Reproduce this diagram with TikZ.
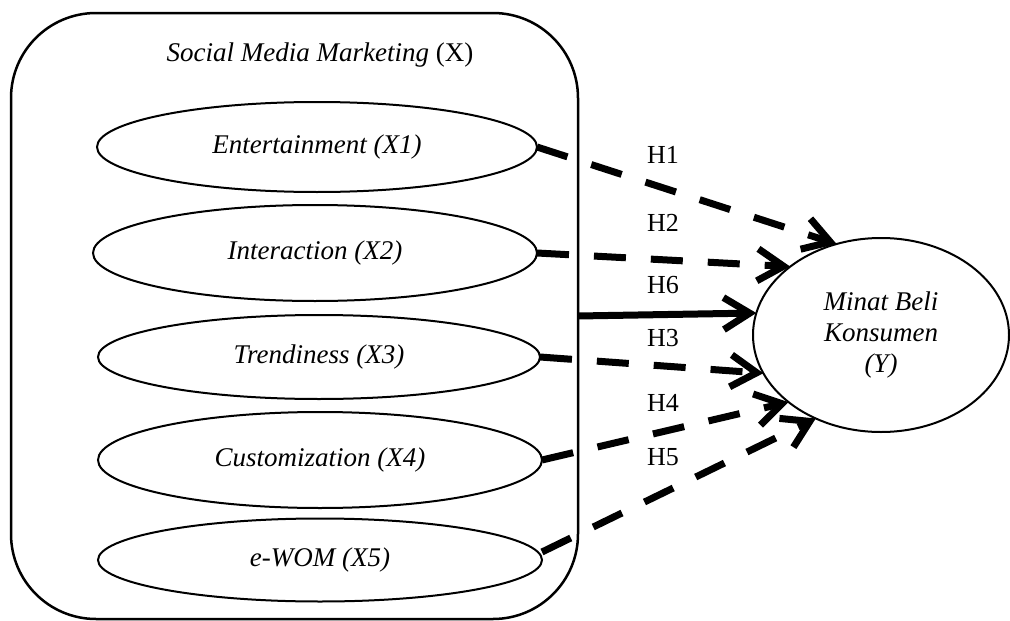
\documentclass[tikz,border=0pt]{standalone}
\usepackage{fontspec}
\setmainfont{Liberation Serif}
\usetikzlibrary{arrows.meta,shapes.geometric}
\begin{document}
\begin{tikzpicture}[x=1pt,y=-1pt,
  every node/.style={font=\fontsize{27}{31}\selectfont},
  frame/.style={draw, line width=2.5pt, rounded corners=85pt, inner sep=0pt, outer sep=0pt},
  dim/.style={draw, ellipse, line width=2pt, inner sep=0pt, outer sep=0pt,
    font=\fontsize{27}{31}\selectfont\itshape},
  hyp/.style={line width=7pt, -{Straight Barb[length=26pt,width=32pt]}},
  dashedhyp/.style={hyp, dash pattern=on 32pt off 25pt},
  hlabel/.style={font=\fontsize{26}{30}\selectfont}
]
\useasboundingbox (0,0) rectangle (1010,621);

% independent variable group
\node[frame, minimum width=567pt, minimum height=606pt] (smm) at (294.5,316) {};
\node (title) at (320,55) {\textit{Social Media Marketing} (X)};

% dimensions of X
\node[dim, minimum width=440pt, minimum height=90pt] (ent) at (317,147) {Entertainment (X1)};
\node[dim, minimum width=444pt, minimum height=96pt] (int) at (315,253) {Interaction (X2)};
\node[dim, minimum width=442pt, minimum height=84pt] (tre) at (319,357) {Trendiness (X3)};
\node[dim, minimum width=444pt, minimum height=96pt] (cus) at (320,460) {Customization (X4)};
\node[dim, minimum width=444pt, minimum height=83pt] (ewom) at (320,560) {e-WOM (X5)};

% dependent variable
\node[dim, minimum width=256pt, minimum height=194pt, align=center] (minat) at (881,335)
  {Minat Beli\\Konsumen\\(Y)};

% hypotheses
\draw[dashedhyp] (ent.east) -- (minat.116);
\draw[dashedhyp] (int.east) -- (minat.143);
\draw[hyp] (smm.east) -- (minat.170);
\draw[dashedhyp] (tre.east) -- (minat.198);
\draw[dashedhyp] (cus.east) -- (minat.216);
\draw[dashedhyp] ([yshift=8pt]ewom.east) -- (minat.232);

\node[hlabel] (h1) at (663,155) {H1};
\node[hlabel] (h2) at (663,223) {H2};
\node[hlabel] (h6) at (663,285) {H6};
\node[hlabel] (h3) at (663,338) {H3};
\node[hlabel] (h4) at (663,403) {H4};
\node[hlabel] (h5) at (663,457) {H5};
\end{tikzpicture}
\end{document}
